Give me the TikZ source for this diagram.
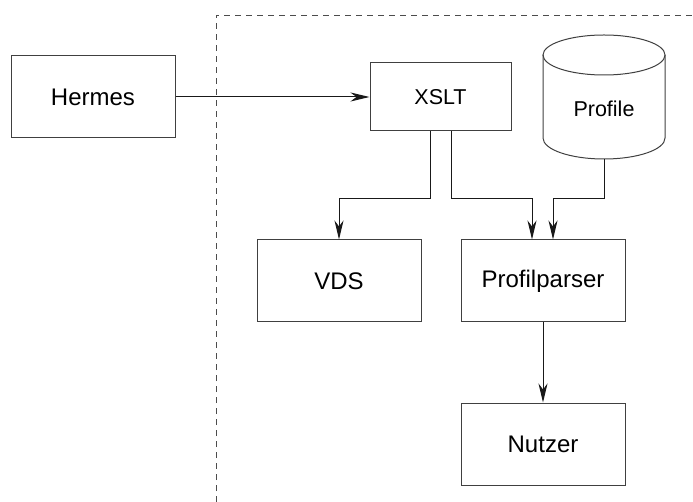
\documentclass[tikz,border=0pt]{standalone}
\usepackage{fontspec}
\setmainfont{Liberation Sans}
\usetikzlibrary{arrows.meta}
\begin{document}
\begin{tikzpicture}[x=1pt,y=-1pt,
  box/.style={draw=black!75,line width=1pt,rectangle,inner sep=0pt,font=\fontsize{24}{28}\selectfont},
  arr/.style={draw=black!90,line width=1pt,-{Stealth[length=19pt,width=9pt,inset=6pt]}},
  frame/.style={draw=black!70,line width=0.9pt,dash pattern=on 6pt off 5pt}]
\useasboundingbox (0,0) rectangle (693,502);
\draw[frame] (216,502) -- (216,15) -- (693,15);
\node[box,minimum width=164pt,minimum height=82pt] (hermes) at (93,97) {Hermes};
\node[box,minimum width=141pt,minimum height=68pt,font=\fontsize{21.5}{26}\selectfont] (xslt) at (440.5,97) {XSLT};
\node[inner sep=0pt,minimum width=122pt,minimum height=124pt] (profile) at (604,97) {};
\node[inner sep=0pt,font=\fontsize{21.5}{26}\selectfont] (profiletext) at ([yshift=-12pt]profile.center) {Profile};
\draw[draw=black!75,line width=1pt] (543,55) -- (543,138) arc[start angle=180,end angle=360,x radius=61pt,y radius=21pt] -- (665,55);
\draw[draw=black!75,line width=1pt] (604,55) ellipse[x radius=61pt,y radius=20pt];
\node[box,minimum width=164pt,minimum height=82pt] (vds) at (339,281) {VDS};
\node[box,minimum width=164pt,minimum height=82pt] (parser) at (543,281) {Profilparser};
\node[box,minimum width=164pt,minimum height=82pt] (nutzer) at (543,444) {Nutzer};
\coordinate (turnA) at (430,199);
\coordinate (turnB) at (451,199);
\coordinate (turnC) at (604,199);
\draw[arr] (hermes.east) -- (xslt.west);
\draw[arr] ([xshift=-10.5pt]xslt.south) -- (turnA) -| (vds.north);
\draw[arr] ([xshift=10.5pt]xslt.south) -- (turnB) -| ([xshift=-11pt]parser.north);
\draw[arr] (profile.south) -- (turnC) -| ([xshift=10pt]parser.north);
\draw[arr] (parser.south) -- (nutzer.north);
\end{tikzpicture}
\end{document}
